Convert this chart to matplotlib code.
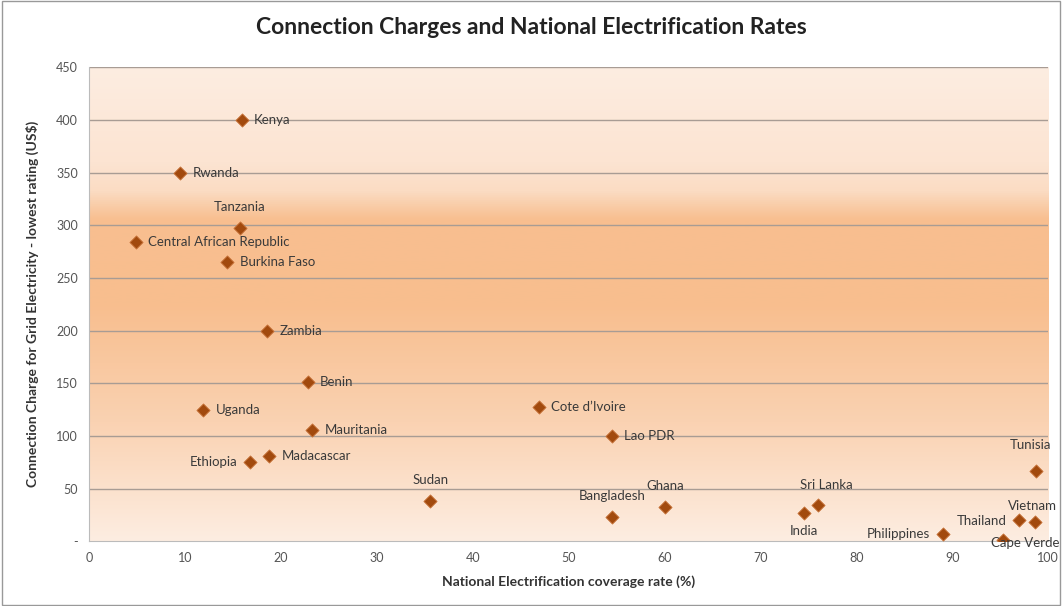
import numpy as np
import matplotlib.pyplot as plt
from matplotlib.colors import LinearSegmentedColormap

# data
countries = ['Kenya', 'Rwanda', 'Tanzania', 'Central African Republic', 'Burkina Faso',
             'Zambia', 'Benin', 'Uganda', "Cote d\u2019Ivoire", 'Mauritania', 'Lao PDR',
             'Ethiopia', 'Madacascar', 'Sudan', 'Bangladesh', 'Ghana', 'India', 'Sri Lanka',
             'Philippines', 'Tunisia', 'Vietnam', 'Thailand', 'Cape Verde']
coverage = [15.9, 9.5, 15.7, 4.9, 14.4, 18.6, 22.8, 11.9, 46.9, 23.3, 54.5,
            16.8, 18.8, 35.6, 54.5, 60.1, 74.5, 76.0, 89.0, 98.7, 98.6, 97.0, 95.3]
charge = [400, 350, 297, 284, 265, 200, 151, 125, 127, 106, 100,
          75, 81, 38, 23, 32, 27, 34, 7, 67, 18, 20, 1]
# label placement per point (offset in points, ha, va)
label_pos = {
    'Tanzania': ((0, 11), 'center', 'bottom'),
    'Sudan': ((0, 11), 'center', 'bottom'),
    'Bangladesh': ((0, 11), 'center', 'bottom'),
    'Ghana': ((0, 11), 'center', 'bottom'),
    'Sri Lanka': ((6, 10), 'center', 'bottom'),
    'Tunisia': ((-4, 14), 'center', 'bottom'),
    'Vietnam': ((-2, 7), 'center', 'bottom'),
    'Thailand': ((-9, -1), 'right', 'center'),
    'Ethiopia': ((-9, 0), 'right', 'center'),
    'Philippines': ((-9, 0), 'right', 'center'),
    'India': ((0, -9), 'center', 'top'),
    'Cape Verde': ((-9, -2), 'left', 'center'),
}

xticks = list(range(0, 101, 10))
yticks = list(range(0, 451, 50))
ytick_labels = ['-'] + [str(v) for v in yticks[1:]]

plt.rcParams['font.family'] = ['Lato', 'DejaVu Sans']

fig = plt.figure(figsize=(10.62, 6.06), dpi=100)
ax = fig.add_axes([0.0838, 0.107, 0.9032, 0.782])

# background gradient of the plot area
cmap = LinearSegmentedColormap.from_list('bg', [
    (0.0, '#FDEDE1'), (0.25, '#FAD2B2'), (0.5, '#F8BE8E'), (0.68, '#F8BF90'),
    (0.74, '#FBDCC3'), (0.8, '#FCE4D2'), (1.0, '#FDEDE1')])
grad = np.linspace(0, 1, 256).reshape(-1, 1)
ax.imshow(grad, aspect='auto', cmap=cmap, origin='lower',
          extent=[0, 100, 0, 450], zorder=0)

ax.set_xlim(0, 100)
ax.set_ylim(0, 450)
for y in yticks[1:]:
    ax.axhline(y, color='#A89C94', lw=1, zorder=1)

ax.scatter(coverage, charge, marker='D', s=45, color='#A24A0E',
           edgecolors='#C7733A', linewidths=0.6, zorder=3)

for name, x, y in zip(countries, coverage, charge):
    off, ha, va = label_pos.get(name, ((9, 0), 'left', 'center'))
    ax.annotate(name, (x, y), xytext=off, textcoords='offset points',
                ha=ha, va=va, fontsize=9.5, color='#3A3A3A', zorder=4,
                annotation_clip=False)

ax.set_xticks(xticks)
ax.set_yticks(yticks)
ax.set_yticklabels(ytick_labels)
ax.tick_params(length=0, labelsize=9, colors='#555555', pad=8)
for s in ['top', 'right']:
    ax.spines[s].set_visible(False)
ax.spines['left'].set_color('#BBBBBB')
ax.spines['bottom'].set_color('#BBBBBB')

ax.set_xlabel('National Electrification coverage rate (%)', fontsize=10,
              fontweight='bold', color='#333333', labelpad=8)
ax.set_ylabel('Connection Charge for Grid Electricity - lowest rating (US$)', fontsize=10,
              fontweight='bold', color='#333333', labelpad=12)
fig.suptitle('Connection Charges and National Electrification Rates', fontsize=16.5,
             fontweight='bold', color='#222222', y=0.972)

# thin grey frame around the chart
fig.patches.append(plt.Rectangle((0.002, 0.002), 0.996, 0.996, transform=fig.transFigure,
                                 fill=False, edgecolor='#999999', lw=1))

fig.savefig('out.png', dpi=100)
